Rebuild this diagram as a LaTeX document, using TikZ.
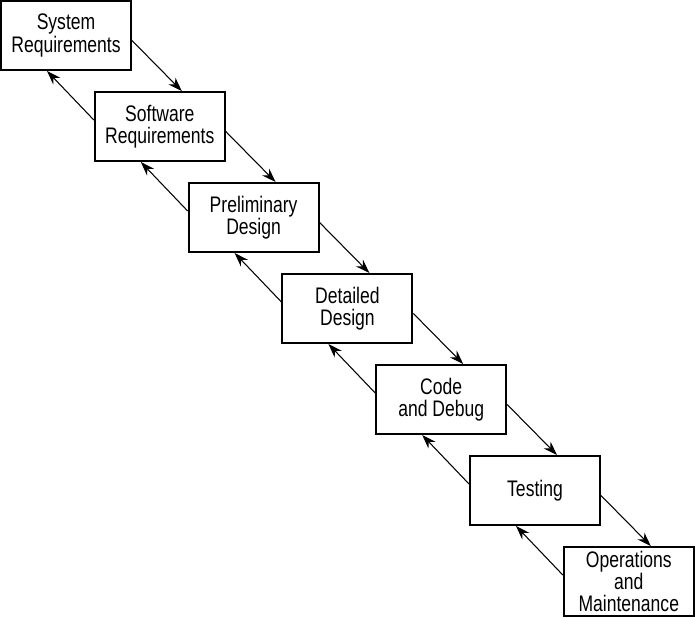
\documentclass[tikz,border=0pt]{standalone}
\usepackage{fontspec}
\setmainfont{Liberation Sans}[FakeStretch=0.78]
\usetikzlibrary{arrows.meta, positioning}

\begin{document}
\begin{tikzpicture}[>={Stealth[length=8pt,width=5.5pt]},
    font=\fontsize{12.8}{12.6}\selectfont,
    phase/.style={draw, line width=1.1pt, minimum width=2.6cm,
      minimum height=1.38cm, inner sep=1pt, align=center},
    down/.style={->, line width=0.6pt},
    back/.style={->, line width=0.6pt},
    node distance=1.82cm and 1.876cm, on grid]
  \useasboundingbox (0,0) rectangle (13.9,-12.36);

  % waterfall phases
  \node[phase] (sysreq) at (1.32,-0.71) {System\\Requirements};
  \node[phase, below right=of sysreq] (swreq) {Software\\Requirements};
  \node[phase, below right=of swreq] (prelim) {Preliminary\\Design};
  \node[phase, below right=of prelim] (detail) {Detailed\\Design};
  \node[phase, below right=of detail] (code) {Code\\and Debug};
  \node[phase, below right=of code] (test) {Testing};
  \node[phase, below right=of test] (ops) {Operations\\and\\Maintenance};

  % forward flow
  \draw[down] ([yshift=-0.1cm]sysreq.east) -- ([xshift=0.44cm]swreq.north);
  \draw[down] ([yshift=-0.1cm]swreq.east) -- ([xshift=0.44cm]prelim.north);
  \draw[down] ([yshift=-0.1cm]prelim.east) -- ([xshift=0.44cm]detail.north);
  \draw[down] ([yshift=-0.1cm]detail.east) -- ([xshift=0.44cm]code.north);
  \draw[down] ([yshift=-0.1cm]code.east) -- ([xshift=0.44cm]test.north);
  \draw[down] ([yshift=-0.1cm]test.east) -- ([xshift=0.44cm]ops.north);

  % feedback to the previous phase
  \draw[back] ([yshift=0.13cm]swreq.west) -- ([xshift=-0.38cm]sysreq.south);
  \draw[back] ([yshift=0.13cm]prelim.west) -- ([xshift=-0.38cm]swreq.south);
  \draw[back] ([yshift=0.13cm]detail.west) -- ([xshift=-0.38cm]prelim.south);
  \draw[back] ([yshift=0.13cm]code.west) -- ([xshift=-0.38cm]detail.south);
  \draw[back] ([yshift=0.13cm]test.west) -- ([xshift=-0.38cm]code.south);
  \draw[back] ([yshift=0.13cm]ops.west) -- ([xshift=-0.38cm]test.south);
\end{tikzpicture}
\end{document}
